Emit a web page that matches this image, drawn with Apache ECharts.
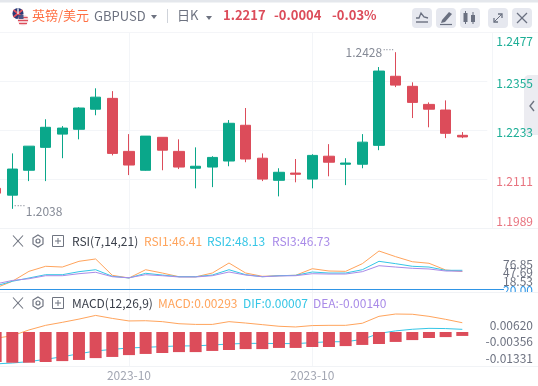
<!DOCTYPE html>
<html><head><meta charset="utf-8">
<style>html,body{margin:0;padding:0;background:#fff;overflow:hidden;width:538px;height:386px}#c{position:absolute;left:-20px;top:0;width:558px;height:386px}</style>
<script src="https://cdn.jsdelivr.net/npm/echarts@6/dist/echarts.min.js"></script>
</head><body><div id="c"></div>
<script>
const categories = ['','','','','','','','','2023-10','','','','','','','','','','','2023-10','','','','','','','','','',''];
// [open, close, low, high]
const candles = [
[1.2089,1.2077,1.2072,1.2089],[1.2072,1.2137,1.2038,1.2176],[1.2134,1.2194,1.2107,1.2194],[1.2191,1.2241,1.2107,1.2261],
[1.2224,1.2239,1.2164,1.2244],[1.2236,1.2289,1.2211,1.2291],[1.2286,1.2316,1.2271,1.2338],[1.2313,1.2176,1.2171,1.2331],
[1.2181,1.2147,1.2122,1.2224],[1.2134,1.2219,1.2133,1.2219],[1.2216,1.2184,1.2134,1.2216],[1.2181,1.2142,1.2137,1.2211],
[1.2139,1.2144,1.2089,1.2191],[1.2142,1.2166,1.2092,1.2169],[1.2157,1.2251,1.2144,1.2259],[1.2246,1.2162,1.2154,1.2289],
[1.2164,1.2112,1.2107,1.2176],[1.2109,1.2129,1.2069,1.2139],[1.2127,1.2124,1.2104,1.2162],[1.2112,1.2171,1.2089,1.2174],
[1.2169,1.2154,1.2119,1.2199],[1.2149,1.2152,1.2097,1.2164],[1.2149,1.2204,1.2139,1.2224],[1.2196,1.2381,1.2184,1.2391],
[1.2368,1.2346,1.2341,1.2428],[1.2343,1.2303,1.2264,1.2353],[1.2298,1.2286,1.2241,1.2303],[1.2284,1.2226,1.2214,1.2308],
[1.2221,1.2217,1.2214,1.2229]];
const rsi1 = [21.8,31.8,46.6,54.1,53.0,61.5,65.0,40.7,36.7,49.0,44.1,38.6,38.4,44.1,59.0,44.1,39.2,40.1,40.7,50.5,47.1,46.6,58.0,76.85,68.4,60.9,58.6,48.6,46.41];
const rsi2 = [24.8,31.8,36.7,41.6,41.6,46.1,49.0,39.2,36.7,43.7,41.1,38.6,38.6,41.1,49.0,41.6,38.6,40.1,40.7,45.6,44.1,44.1,49.0,61.5,58.0,54.1,53.0,48.1,48.13];
const rsi3 = [27.8,33.0,35.6,40.1,40.1,43.1,45.2,38.6,37.1,41.6,40.1,38.2,38.2,40.1,45.6,41.1,38.6,39.7,40.1,43.1,42.6,42.6,46.1,55.0,53.0,51.1,50.1,47.1,46.73];
const macdLine = [-0.0038,-0.0027,-0.0002,0.0018,0.0031,0.0045,0.0061,0.0048,0.0037,0.0038,0.0034,0.0025,0.0022,0.0022,0.0034,0.0028,0.0021,0.0014,0.0011,0.0017,0.0018,0.0018,0.0027,0.0057,0.0067,0.0066,0.0057,0.0044,0.00293];
const difLine = [-0.0149,-0.0145,-0.0139,-0.0129,-0.0118,-0.0105,-0.0093,-0.0086,-0.0080,-0.0077,-0.0074,-0.0071,-0.0071,-0.0067,-0.0063,-0.0060,-0.0060,-0.0061,-0.0061,-0.0057,-0.0053,-0.0053,-0.0043,-0.0017,-0.0006,0.0001,0.0005,0.0004,0.00007];
const macdBars = [-0.0130,-0.0133,-0.0133,-0.0130,-0.0126,-0.0121,-0.0113,-0.0108,-0.0100,-0.0095,-0.0091,-0.0087,-0.0087,-0.0082,-0.0078,-0.0074,-0.0074,-0.0069,-0.0069,-0.0065,-0.0065,-0.0061,-0.0056,-0.0052,-0.0043,-0.0035,-0.0026,-0.0022,-0.0017];
const priceTicks = [1.1989,1.2111,1.2233,1.2355,1.2477];
const rsiTicks = ['20.00','18.53','47.69','76.85'];
const macdTicks = ['-0.01331','-0.00356','0.00620'];
const rsiFloor = 20;

const FONT='"Noto Sans CJK SC","Noto Sans",sans-serif';
const GREEN='#0aa78a',RED='#dc4c5a',ORANGE='#ffa45c',CYAN='#35c6e6',PURPLE='#a98be8',GRID='#f3f5f8',GRAY='#6a7080';
const SHIFT=20; // the canvas starts off-screen so the first candle can be cut by the window edge
const vLine={show:true,alignWithLabel:true,interval:(i)=>i===8||i===19,lineStyle:{color:GRID,width:1}};
const xBase=(g,extra)=>Object.assign({type:'category',gridIndex:g,data:categories,axisLine:{show:false},axisTick:{show:false},axisLabel:{show:false},splitLine:vLine},extra||{});
const T=(text,x,y,size,fill,weight)=>({type:'text',z:10,style:{text,x,y,font:(weight||'normal')+' '+size+'px '+FONT,fill,textVerticalAlign:'middle'}});
const L=(x1,y1,x2,y2,stroke,w)=>({type:'line',z:12,silent:true,shape:{x1,y1,x2,y2},style:{stroke,lineWidth:w||1}});
const R=(x,y,width,height,fill,r,z)=>({type:'rect',z:z===undefined?5:z,shape:{x,y,width,height,r:r||0},style:{fill}});
const P=(pts,stroke,w,fill)=>({type:'polyline',z:11,shape:{points:pts},style:{stroke,lineWidth:w||1.3,fill:fill||'none'}});
const PG=(pts,fill,stroke)=>({type:'polygon',z:11,shape:{points:pts},style:{fill:fill||'none',stroke:stroke||'none',lineWidth:1.2}});
const C=(cx,cy,r,fill,stroke)=>({type:'circle',z:11,shape:{cx,cy,r},style:{fill:fill||'none',stroke:stroke||'none',lineWidth:1.2}});

function paneIcons(y){const g=[];
 g.push(L(13,y-5.5,23,y+5.5,'#6f7480',1.1),L(23,y-5.5,13,y+5.5,'#6f7480',1.1));
 g.push(PG([[38,y-6],[43,y-3],[43,y+3],[38,y+6],[33,y+3],[33,y-3]],null,'#6f7480'),C(38,y,2,null,'#6f7480'));
 g.push({type:'rect',z:11,shape:{x:52.5,y:y-5.5,width:11,height:11},style:{fill:'none',stroke:'#6f7480',lineWidth:1}},L(55,y,61,y,'#6f7480'),L(58,y-3,58,y+3,'#6f7480'));
 return g;}

const children=[
 R(0,0,538,2.5,'#e4e7ec'),
 L(0,32.5,538,32.5,'#f4f5f8'),L(0,228.5,538,228.5,'#f1f3f6'),L(0,292.5,538,292.5,'#f1f3f6'),L(0,366.5,538,366.5,'#f1f3f6'),
 R(524,75,14,60,'#ececf1',[5,0,0,5],-1),
 P([[534,101],[530,106],[534,111]],'#6f7480',1.4),
 R(492,293,46,14,'#ffffff',0,6),
 C(18,13.5,5.5,'#2b3a78'),L(13.5,10,22.5,17,'#e0505c',1.6),L(22.5,10,13.5,17,'#e0505c',1.6),L(18,8.3,18,14,'#f2f2f2',1.4),
 Object.assign(C(23,20,5.5,'#f8e3e5'),{z:12}),Object.assign(L(18.3,17.5,27.7,17.5,RED,1.3),{z:13}),Object.assign(L(18,20.5,28,20.5,RED,1.3),{z:13}),Object.assign(L(19,23.5,27,23.5,RED,1.3),{z:13}),R(18.5,15,5,4,'#4b5586',0,14),
 T('英镑/美元',32,15.5,13,'#ff7145'),T('GBPUSD',94,16.5,13,'#6d7280'),
 PG([[151,15],[157,15],[154,19]],'#6d7280'),L(167.5,9,167.5,23,'#cfd3da'),
 T('日K',177,15.5,13,'#6d7280'),PG([[206,16],[212,16],[209,20]],'#6d7280'),
 T('1.2217',223,15.5,13,RED,'bold'),T('-0.0004',274,15.5,13,RED,'bold'),T('-0.03%',332,15.5,13,RED,'bold'),
 R(412,8,20,20,'#e6e8ef',4),R(436,8,20,20,'#e6e8ef',4),R(460,8,20,20,'#e6e8ef',4),R(488,8,20,20,'#e6e8ef',4),R(512,8,20,20,'#e6e8ef',4),
 P([[416,18],[419,18],[421,13],[424,17],[428,18]],GRAY),L(416,22,428,22,GRAY,1.4),
 PG([[442,20],[449,12],[452,14],[445,22],[441,23]],GRAY),L(440,24.5,452,24.5,GRAY,1.2),
 R(463.5,13,4,9,GRAY,0,11),L(465.5,11,465.5,24,GRAY),R(471,15,4,7,GRAY,0,11),L(473,12,473,24,GRAY),
 L(494,22,502,14,GRAY),P([[498,14],[502,14],[502,18]],GRAY),P([[494,18],[494,22],[498,22]],GRAY),
 L(517,13,527,23,GRAY,1.2),L(527,13,517,23,GRAY,1.2),
 ...paneIcons(241),
 T('RSI(7,14,21)',72,241,12,'#3a3f4a'),T('RSI1:46.41',144,241,12,ORANGE),T('RSI2:48.13',207,241,12,CYAN),T('RSI3:46.73',272,241,12,PURPLE),
 ...paneIcons(303),
 T('MACD(12,26,9)',72,303,12,'#3a3f4a'),T('MACD:0.00293',158,303,12,ORANGE),T('DIF:0.00007',243,303,12,CYAN),T('DEA:-0.00140',313,303,12,PURPLE)
];
const line=(name,data,color,x,y)=>({name,type:'line',data,xAxisIndex:x,yAxisIndex:y,symbol:'none',showSymbol:false,lineStyle:{color,width:1},itemStyle:{color},z:2});
const extremeLabel=(coord,text,pos,off,dots)=>({coord,symbol:'circle',symbolSize:1,itemStyle:{color:'transparent'},label:{show:true,formatter:text,position:pos,distance:1,offset:off,color:'#858a96',fontSize:dots?9:12,fontFamily:dots?'"DejaVu Sans"':FONT}});
const tickStyle={
 t:{color:'#1cae96',fontSize:12,fontFamily:FONT,padding:[17,0,0,0]},
 m:{color:'#1cae96',fontSize:12,fontFamily:FONT,padding:[4,0,0,0]},
 r:{color:'#e8737f',fontSize:12,fontFamily:FONT,padding:[4,0,0,0]},
 b:{color:'#e8737f',fontSize:12,fontFamily:FONT,padding:[0,0,15,0]}
};
const tickKeys=['b','r','m','m','t'];

const chart=echarts.init(document.getElementById('c'),null,{renderer:'canvas'});
chart.setOption({
 animation:false,backgroundColor:'#fff',textStyle:{fontFamily:FONT},
 graphic:{elements:[{type:'group',x:SHIFT,y:0,children}]},
 grid:[
  {left:SHIFT-12.7,width:500,top:32.5,height:196},
  {left:SHIFT-12.7,width:516.7,top:229,height:63},
  {left:SHIFT-12.7,width:500,top:293,height:73},
  {left:SHIFT,width:533,top:264,height:26},
  {left:SHIFT,width:533,top:325,height:33}
 ],
 xAxis:[
  xBase(0),
  Object.assign(xBase(1),{data:categories.concat([''])}),
  xBase(2,{axisLabel:{show:true,interval:(i)=>i===8||i===19,color:'#a3a7b3',fontSize:12,margin:3,fontFamily:FONT}}),
  {type:'value',gridIndex:3,show:false,min:0,max:1},
  {type:'value',gridIndex:4,show:false,min:0,max:1}
 ],
 yAxis:[
  {type:'value',gridIndex:0,position:'right',offset:4.7,min:1.1989,max:1.2477,
   axisLine:{show:true,lineStyle:{color:GRID}},axisTick:{show:false,customValues:priceTicks},
   splitLine:{show:true,lineStyle:{color:GRID}},
   axisLabel:{customValues:priceTicks,margin:41,align:'right',showMinLabel:true,showMaxLabel:true,rich:tickStyle,
    formatter:v=>'{'+tickKeys[priceTicks.findIndex(p=>Math.abs(p-v)<1e-6)]+'|'+(+v).toFixed(4)+'}'}},
  {type:'value',gridIndex:1,min:15.85,max:109.6,show:false,splitLine:{show:false}},
  {type:'value',gridIndex:2,min:-0.0158,max:0.0158,show:false,splitLine:{show:false}},
  {type:'value',gridIndex:2,min:-0.01472,max:0.01689,show:false,splitLine:{show:false}},
  {type:'category',gridIndex:3,position:'right',boundaryGap:false,data:rsiTicks,axisLine:{show:false},axisTick:{show:false},
   axisLabel:{margin:0,align:'right',interval:0,fontSize:12,fontFamily:FONT,color:v=>(v==='20.00'?'#2f95e6':'#6d7280')}},
  {type:'category',gridIndex:4,position:'right',boundaryGap:false,data:macdTicks,axisLine:{show:false},axisTick:{show:false},
   axisLabel:{margin:0,align:'right',interval:0,fontSize:12,fontFamily:FONT,color:'#6d7280'}}
 ],
 series:[
  {name:'K',type:'candlestick',data:candles,xAxisIndex:0,yAxisIndex:0,barWidth:11,
   itemStyle:{color:GREEN,color0:RED,borderColor:GREEN,borderColor0:RED,borderWidth:1},
   markPoint:{silent:true,animation:false,data:[
     extremeLabel([24,1.2428],'1.2428','left',[-12,0]),
     extremeLabel([24,1.2428],'····','left',[0,-2],true),
     extremeLabel([1,1.2038],'····','right',[0,-2],true),
     extremeLabel([1,1.2038],'1.2038','right',[12,3])
   ]}},
  {...line('RSI1',rsi1,ORANGE,1,1),markLine:{silent:true,symbol:'none',label:{show:false},lineStyle:{color:'#2f95e6',width:1,type:'solid'},data:[{yAxis:rsiFloor}]}},
  line('RSI2',rsi2,CYAN,1,1),
  line('RSI3',rsi3,PURPLE,1,1),
  line('MACD',macdLine,ORANGE,2,2),
  line('DIF',difLine,CYAN,2,2),
  {name:'BAR',type:'bar',data:macdBars,xAxisIndex:2,yAxisIndex:3,barWidth:12,itemStyle:{color:RED},z:3}
 ]
});
</script></body></html>
